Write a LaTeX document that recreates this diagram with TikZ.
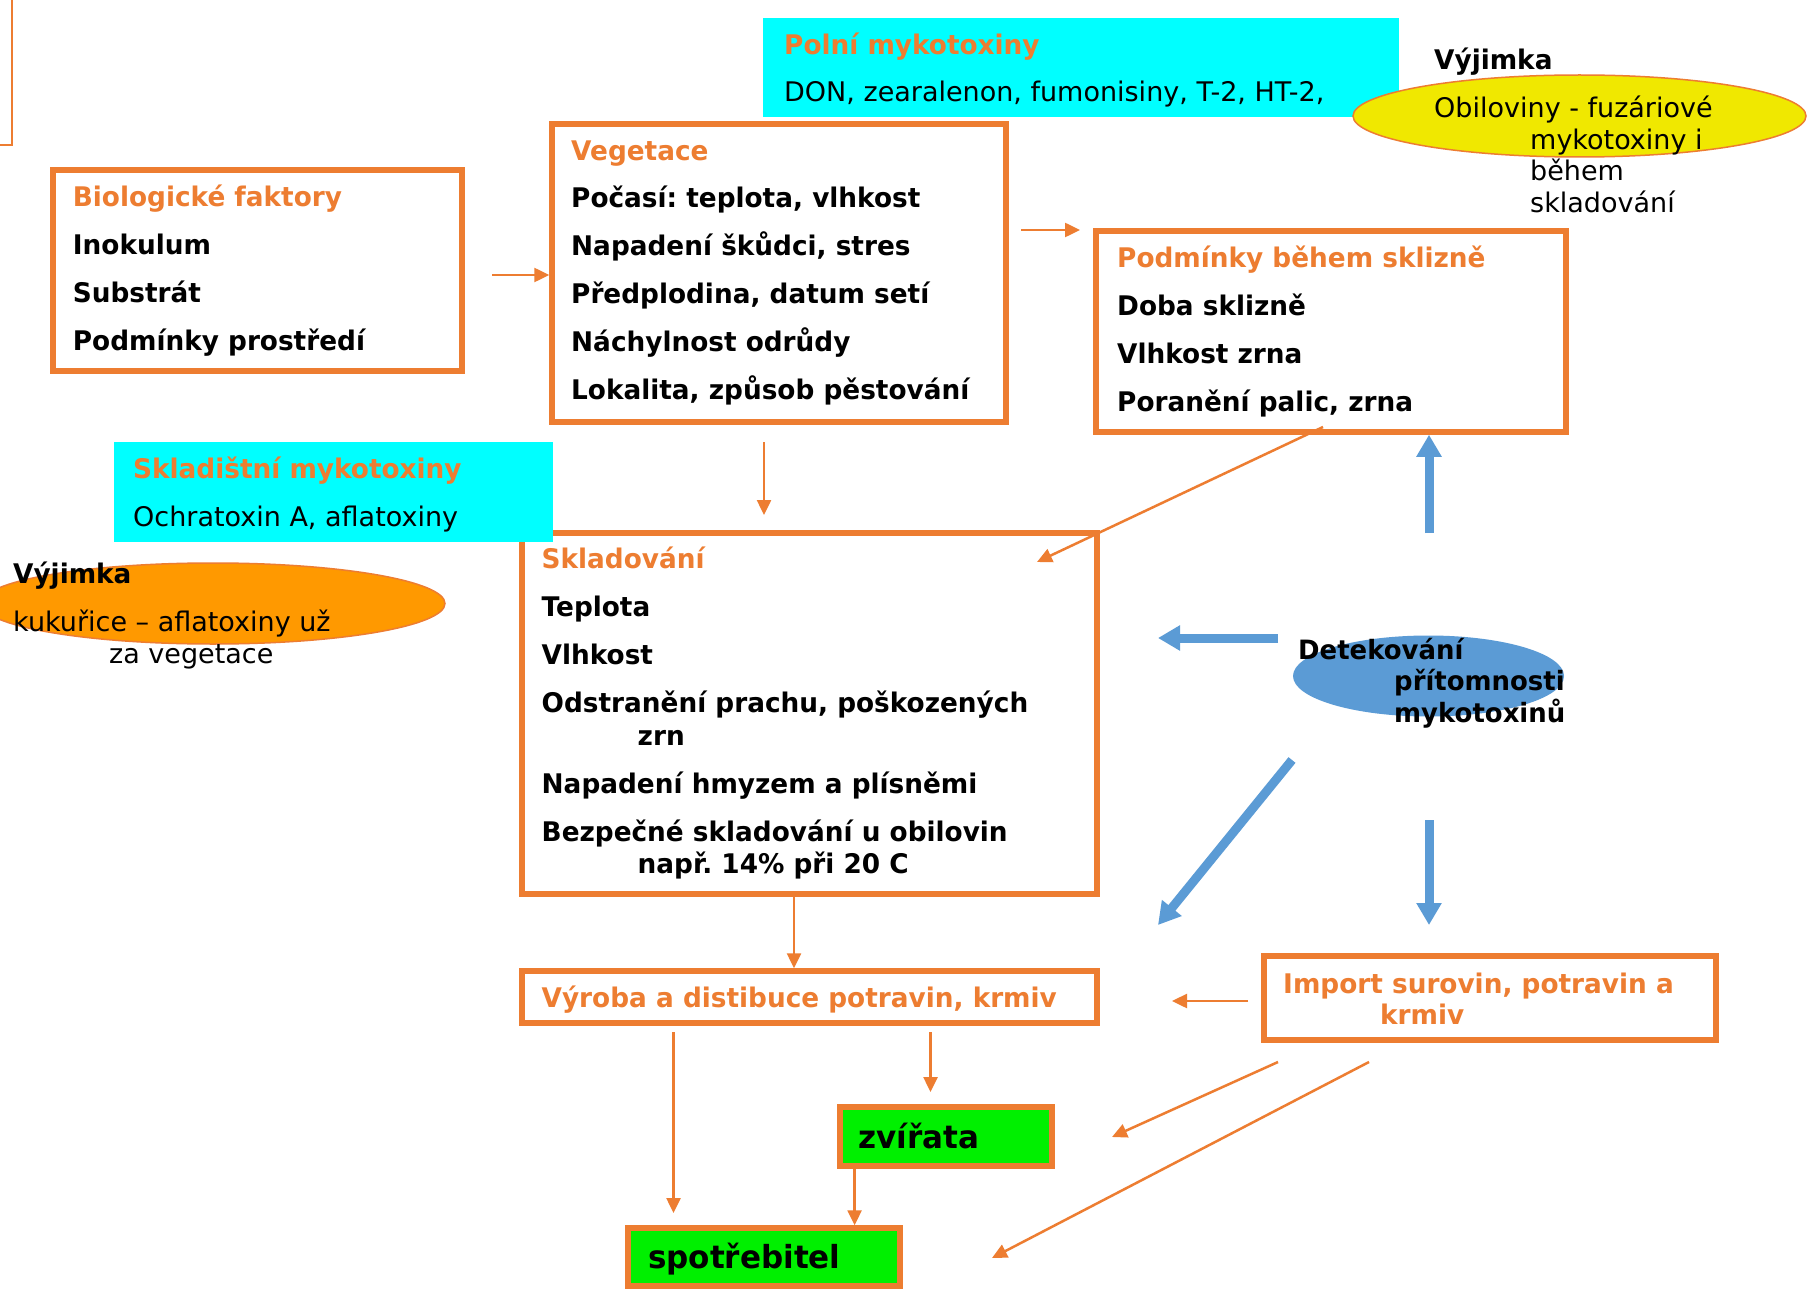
\documentclass[tikz,border=0pt]{standalone}
\usepackage{fontspec}
\setmainfont{DejaVu Sans}[BoldFeatures={FakeStretch=0.975}]
\usetikzlibrary{arrows.meta,shapes.geometric,calc}
\definecolor{ora}{HTML}{ED7D31}
\definecolor{cya}{HTML}{00FFFF}
\definecolor{yel}{HTML}{F0E800}
\definecolor{orf}{HTML}{FF9900}
\definecolor{blu}{HTML}{5B9BD5}
\definecolor{grn}{HTML}{00F000}
\frenchspacing
\begin{document}
\begin{tikzpicture}[x=1pt,y=-1pt,
 box/.style={draw=ora,line width=5.5pt,inner sep=0pt},
 cyanbox/.style={fill=cya,inner sep=0pt},
 greenbox/.style={draw=ora,line width=5.5pt,fill=grn,inner sep=0pt},
 txt/.style={anchor=base west,inner sep=0pt,align=left,font=\fontsize{27}{48}\selectfont},
 oarr/.style={draw=ora,line width=2.5pt,-{Triangle[length=15pt,width=14pt]}},
 barr/.style={draw=blu,line width=9pt,-{Triangle[length=22pt,width=24pt]}},
]
\useasboundingbox (0,0) rectangle (1807,1289);
\fill[white] (0,0) rectangle (1807,1289);
\clip (0,0) rectangle (1807,1289);

% stray frame corner top-left
\draw[ora,line width=2pt] (11.5,0) -- (11.5,145) -- (0,145);

% Polni mykotoxiny (multi-line nodes are placed at the baseline of their last line)
\node[cyanbox,minimum width=636pt,minimum height=99pt] (polni) at (1081,67.5) {};
\node[txt,font=\fontsize{27}{47}\selectfont] (polnit) at (784,102)
 {\textcolor{ora}{\bfseries Polní mykotoxiny}\\DON, zearalenon, fumonisiny, T-2, HT-2,};

% Vyjimka top (yellow)
\node[ellipse,fill=yel,draw=ora,line width=1.5pt,inner sep=0pt,minimum width=453pt,minimum height=82pt] (yell) at (1579.5,116) {};
\node[txt,font=\fontsize{27}{48}\selectfont\bfseries] (vyj1) at (1434,70) {Výjimka};
\node[txt,font=\fontsize{27}{31.5}\selectfont] (yellt) at (1434,212.5)
 {Obiloviny - fuzáriové\\\hspace*{96pt}mykotoxiny i\\\hspace*{96pt}během\\\hspace*{96pt}skladování};

% Biologicke faktory
\node[box,minimum width=409pt,minimum height=201pt] (bio) at (257.5,270.5) {};
\node[txt,font=\fontsize{27}{48}\selectfont\bfseries] (biot) at (72.7,350)
 {\textcolor{ora}{Biologické faktory}\\Inokulum\\Substrát\\Podmínky prostředí};

% Vegetace
\node[box,minimum width=454pt,minimum height=298pt] (veg) at (779,273) {};
\node[txt,font=\fontsize{27}{47.8}\selectfont\bfseries] (vegt) at (571,399)
 {\textcolor{ora}{Vegetace}\\Počasí: teplota, vlhkost\\Napadení škůdci, stres\\Předplodina, datum setí\\Náchylnost odrůdy\\Lokalita, způsob pěstování};

% Podminky behem sklizne
\node[box,minimum width=470pt,minimum height=201pt] (podm) at (1331,331.5) {};
\node[txt,font=\fontsize{27}{48}\selectfont\bfseries] (podmt) at (1117,411)
 {\textcolor{ora}{Podmínky během sklizně}\\Doba sklizně\\Vlhkost zrna\\Poranění palic, zrna};

% Skladovani
\node[box,minimum width=575pt,minimum height=361pt] (sklad) at (809.5,713.5) {};
\node[txt,font=\fontsize{27}{48}\selectfont\bfseries] (skladt) at (541.5,873)
 {\textcolor{ora}{Skladování}\\Teplota\\Vlhkost\\Odstranění prachu, poškozených\\[-15pt]\hspace*{96pt}zrn\\Napadení hmyzem a plísněmi\\Bezpečné skladování u obilovin\\[-16pt]\hspace*{96pt}např. 14\% při 20 C};

% Skladistni mykotoxiny
\node[cyanbox,minimum width=439pt,minimum height=100pt] (sklc) at (333.5,492) {};
\node[txt,font=\fontsize{27}{48}\selectfont] (sklct) at (133,526)
 {\textcolor{ora}{\bfseries Skladištní mykotoxiny}\\Ochratoxin A, aflatoxiny};

% Vyjimka left (orange)
\node[ellipse,fill=orf,draw=ora,line width=1.5pt,inner sep=0pt,minimum width=464pt,minimum height=81pt] (oell) at (213,603.5) {};
\node[txt,font=\fontsize{27}{48}\selectfont\bfseries] (vyj2) at (13,583) {Výjimka};
\node[txt,font=\fontsize{27}{32}\selectfont] (kukt) at (13,663)
 {kukuřice – aflatoxiny už\\\hspace*{96pt}za vegetace};

% Vyroba
\node[box,minimum width=575pt,minimum height=52pt] (vyroba) at (809.5,997) {};
\node[txt,font=\fontsize{27}{48}\selectfont\bfseries,text=ora] (vyrobat) at (541.5,1007)
 {Výroba a distibuce potravin, krmiv};

% Import
\node[box,minimum width=452pt,minimum height=84pt] (import) at (1490,998) {};
\node[txt,font=\fontsize{27}{31}\selectfont\bfseries,text=ora] (importt) at (1283,1024)
 {Import surovin, potravin a\\\hspace*{97pt}krmiv};

% zvirata, spotrebitel
\node[greenbox,minimum width=212pt,minimum height=59pt] (zvir) at (946,1136.5) {};
\node[txt,font=\fontsize{31.8}{40}\selectfont\bfseries] (zvirt) at (858,1148) {zvířata};
\node[greenbox,minimum width=272pt,minimum height=58pt] (spotr) at (764,1257) {};
\node[txt,font=\fontsize{31.8}{40}\selectfont\bfseries] (spotrt) at (648,1268) {spotřebitel};

% Detekovani
\node[ellipse,fill=blu,inner sep=0pt,minimum width=271pt,minimum height=81pt] (det) at (1428.5,676) {};
\node[txt,font=\fontsize{26.6}{31.8}\selectfont\bfseries] (dett) at (1298,722.6)
 {Detekování\\\hspace*{96pt}přítomnosti\\\hspace*{96pt}mykotoxinů};

% orange connectors
\coordinate (a1s) at (492,275);
\draw[oarr] (a1s) -- (a1s -| veg.west);
\coordinate (a2s) at (1021,230);
\coordinate (a2e) at (1080,230);
\draw[oarr] (a2s) -- (a2e);
\coordinate (a3s) at (764,442);
\coordinate (a3e) at (764,515);
\draw[oarr] (a3s) -- (a3e);
\coordinate (a4s) at (1323,427);
\coordinate (a4e) at (1037,562);
\draw[oarr] (a4s) -- (a4e);
\coordinate (a5x) at (794,900);
\draw[oarr] (a5x |- sklad.south) -- (a5x |- vyroba.north);
\coordinate (a6s) at (1248,1001);
\coordinate (a6e) at (1172,1001);
\draw[oarr] (a6s) -- (a6e);
\coordinate (a7s) at (673.5,1032);
\coordinate (a7e) at (673.5,1213);
\draw[oarr] (a7s) -- (a7e);
\coordinate (a8s) at (930.5,1032);
\coordinate (a8e) at (930.5,1092);
\draw[oarr] (a8s) -- (a8e);
\coordinate (a9x) at (854.6,1200);
\draw[oarr] (a9x |- zvir.south) -- (a9x |- spotr.north);
\coordinate (a10s) at (1278,1062);
\coordinate (a10e) at (1112,1137);
\draw[oarr] (a10s) -- (a10e);
\coordinate (a11s) at (1369,1062);
\coordinate (a11e) at (992,1258);
\draw[oarr] (a11s) -- (a11e);

% blue connectors
\coordinate (b1s) at (1429,533);
\draw[barr] (b1s) -- (b1s |- podm.south);
\coordinate (b2s) at (1278,638);
\coordinate (b2e) at (1158,638);
\draw[barr] (b2s) -- (b2e);
\coordinate (b3s) at (1292,760);
\coordinate (b3e) at (1158,925);
\draw[barr] (b3s) -- (b3e);
\coordinate (b4s) at (1429,820);
\coordinate (b4e) at (1429,925);
\draw[barr] (b4s) -- (b4e);
\end{tikzpicture}
\end{document}
